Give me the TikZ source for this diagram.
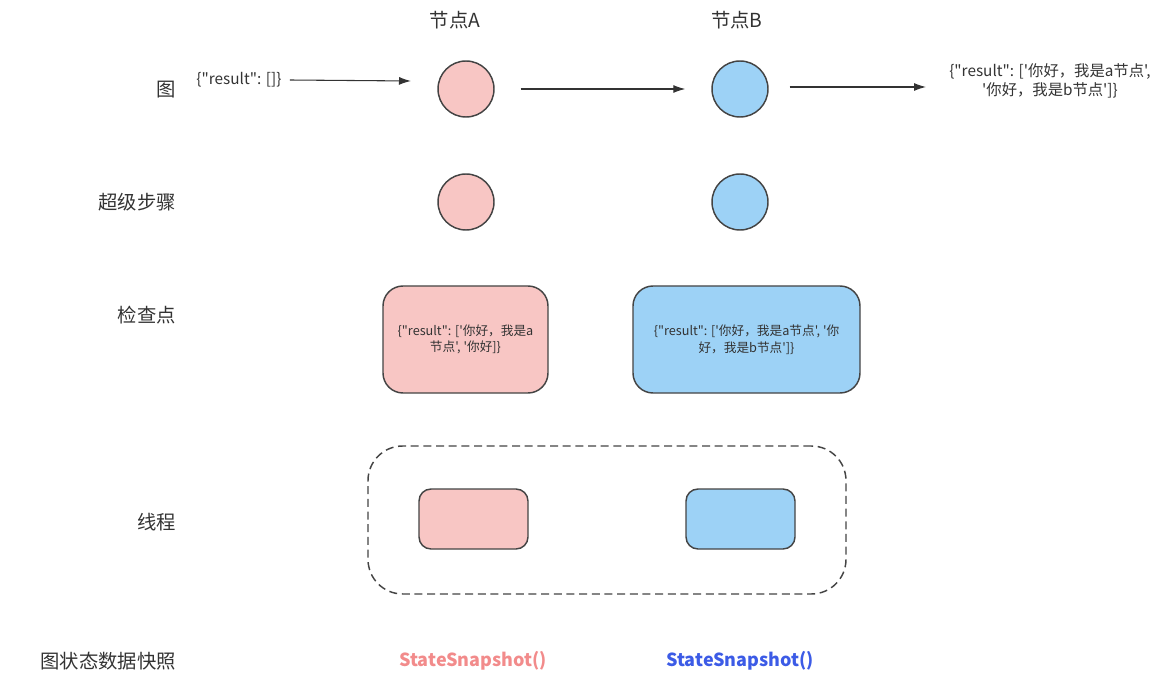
\documentclass[tikz,border=0pt]{standalone}
\usepackage{fontspec}
\setmainfont{Noto Sans CJK SC}[Ligatures=TeXOff]
\usetikzlibrary{arrows.meta}
\definecolor{txt}{HTML}{333333}
\definecolor{edge}{HTML}{444444}
\definecolor{pinkfill}{HTML}{F8C6C4}
\definecolor{bluefill}{HTML}{9DD2F6}
\definecolor{snapred}{HTML}{F28B8B}
\definecolor{snapblue}{HTML}{3C5BE6}
\tikzset{
  rowlabel/.style={anchor=east, font=\fontsize{14.5}{17}\selectfont, text=txt, inner sep=0pt},
  header/.style={font=\fontsize{14.5}{17}\selectfont, text=txt, inner sep=0pt},
  small/.style={font=\fontsize{9.5}{12.5}\selectfont, text=txt, align=center, inner sep=0pt},
  mid/.style={font=\fontsize{11.5}{14}\selectfont, text=txt, align=center, inner sep=0pt},
  nodecirc/.style={circle, draw=edge, line width=1.1pt, minimum size=42pt, inner sep=0pt},
  ckbox/.style={rectangle, rounded corners=15pt, draw=edge, line width=1.1pt, minimum height=80.25pt, inner sep=0pt},
  thbox/.style={rectangle, rounded corners=9pt, draw=edge, line width=1.1pt, minimum width=81.75pt, minimum height=45pt, inner sep=0pt},
  arr/.style={-{Latex[length=9pt,width=6pt]}, draw=txt, line width=0.8pt},
  snap/.style={font=\fontsize{13.5}{16}\selectfont\bfseries, inner sep=0pt}
}
\begin{document}
\begin{tikzpicture}[x=0.75pt,y=-0.75pt]
\path[use as bounding box] (0,0) rectangle (1165,681);
% row labels
\node[rowlabel] (l1) at (176,90) {图};
\node[rowlabel] (l2) at (176,202) {超级步骤};
\node[rowlabel] (l3) at (176,315) {检查点};
\node[rowlabel] (l4) at (176,522) {线程};
\node[rowlabel] (l5) at (176,661) {图状态数据快照};
% headers
\node[header] (hA) at (455,20) {节点A};
\node[header] (hB) at (737,20) {节点B};
% graph row
\node[mid] (start) at (239,80) {\{"result": []\}};
\node[nodecirc, fill=pinkfill] (c1) at (466,89) {};
\node[nodecirc, fill=bluefill] (c2) at (740,89) {};
\node[mid] (endtxt) at (1050,81) {\{"result": ['你好，我是a节点',\\'你好，我是b节点']\}};
\coordinate (a1e) at (411,81);
\coordinate (a3e) at (926,87);
\draw[arr] ([xshift=6pt]start.east) -- (a1e);
\draw[arr, shorten <=19.5pt, shorten >=19.5pt] (c1) -- (c2);
\draw[arr] ([xshift=15.75pt,yshift=1.5pt]c2.east) -- (a3e);
% super-step row
\node[nodecirc, fill=pinkfill] (s1) at (466,202) {};
\node[nodecirc, fill=bluefill] (s2) at (740,202) {};
% checkpoints
\node[ckbox, fill=pinkfill, minimum width=123.75pt, small] (k1) at (465.5,339.5) {\{"result": ['你好，我是a\\节点', '你好]\}};
\node[ckbox, fill=bluefill, minimum width=170.25pt, small] (k2) at (746.5,339.5) {\{"result": ['你好，我是a节点', '你\\好，我是b节点']\}};
% threads
\node[rectangle, rounded corners=26pt, draw=edge, line width=1.1pt, dash pattern=on 6pt off 3.5pt, minimum width=358.5pt, minimum height=111pt] (th) at (607,520) {};
\node[thbox, fill=pinkfill] (t1) at (473.5,519) {};
\node[thbox, fill=bluefill] (t2) at (740.5,519) {};
% snapshots
\node[snap, text=snapred] (p1) at (473,661) {StateSnapshot()};
\node[snap, text=snapblue] (p2) at (740,661) {StateSnapshot()};
\end{tikzpicture}
\end{document}
